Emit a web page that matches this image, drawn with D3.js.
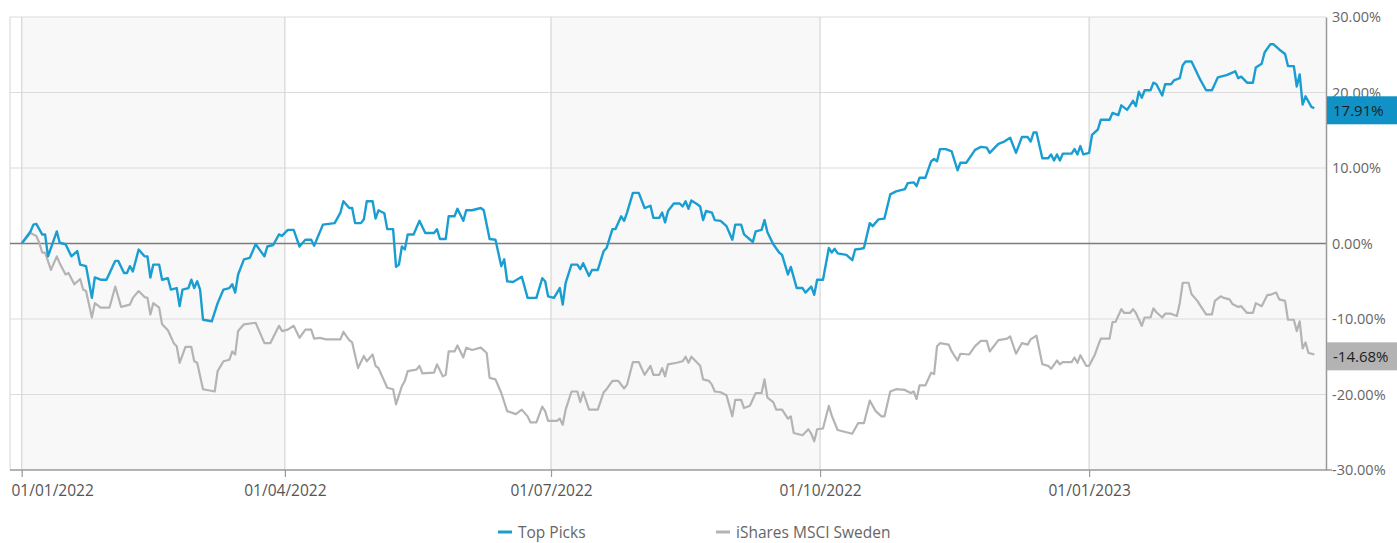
<!DOCTYPE html>
<html>
<head>
<meta charset="utf-8">
<script src="https://cdn.jsdelivr.net/npm/d3@7.9.0/dist/d3.min.js"></script>
<style>
  body { margin: 0; background: #fff; }
  svg { display: block; font-family: "Open Sans", sans-serif; }
</style>
</head>
<body>
<svg id="chart"></svg>
<script>
const width = 1397;
const height = 543;

// Cumulative performance (%)
const pickDates = [
  "2022-01-01","2022-01-04","2022-01-05","2022-01-06","2022-01-08","2022-01-09","2022-01-10","2022-01-13","2022-01-14","2022-01-16",
  "2022-01-18","2022-01-20","2022-01-21","2022-01-23","2022-01-25","2022-01-26","2022-01-28","2022-01-30","2022-02-02","2022-02-03",
  "2022-02-05","2022-02-06","2022-02-07","2022-02-08","2022-02-10","2022-02-12","2022-02-13","2022-02-14","2022-02-15","2022-02-17",
  "2022-02-18","2022-02-20","2022-02-21","2022-02-23","2022-02-24","2022-02-25","2022-02-27","2022-02-28","2022-03-01","2022-03-02",
  "2022-03-03","2022-03-04","2022-03-07","2022-03-09","2022-03-11","2022-03-13","2022-03-14","2022-03-15","2022-03-16","2022-03-18",
  "2022-03-20","2022-03-22","2022-03-25","2022-03-26","2022-03-28","2022-03-30","2022-03-31","2022-04-02","2022-04-04","2022-04-06",
  "2022-04-08","2022-04-10","2022-04-11","2022-04-14","2022-04-18","2022-04-20","2022-04-21","2022-04-23","2022-04-24","2022-04-25",
  "2022-04-27","2022-04-28","2022-04-29","2022-05-01","2022-05-02","2022-05-03","2022-05-05","2022-05-06","2022-05-08","2022-05-09",
  "2022-05-10","2022-05-11","2022-05-12","2022-05-13","2022-05-15","2022-05-17","2022-05-19","2022-05-22","2022-05-23","2022-05-24",
  "2022-05-26","2022-05-27","2022-05-29","2022-05-30","2022-06-01","2022-06-02","2022-06-04","2022-06-07","2022-06-08","2022-06-10",
  "2022-06-12","2022-06-14","2022-06-15","2022-06-16","2022-06-18","2022-06-21","2022-06-23","2022-06-26","2022-06-28","2022-06-29",
  "2022-06-30","2022-07-02","2022-07-04","2022-07-05","2022-07-06","2022-07-08","2022-07-10","2022-07-11","2022-07-12","2022-07-14",
  "2022-07-15","2022-07-17","2022-07-19","2022-07-20","2022-07-22","2022-07-23","2022-07-25","2022-07-26","2022-07-27","2022-07-29",
  "2022-07-31","2022-08-02","2022-08-04","2022-08-05","2022-08-07","2022-08-08","2022-08-09","2022-08-10","2022-08-12","2022-08-14",
  "2022-08-15","2022-08-16","2022-08-17","2022-08-18","2022-08-20","2022-08-21","2022-08-22","2022-08-23","2022-08-25","2022-08-26",
  "2022-08-28","2022-08-30","2022-09-01","2022-09-02","2022-09-04","2022-09-05","2022-09-08","2022-09-09","2022-09-11","2022-09-12",
  "2022-09-13","2022-09-15","2022-09-17","2022-09-18","2022-09-20","2022-09-21","2022-09-23","2022-09-25","2022-09-26","2022-09-28",
  "2022-09-29","2022-09-30","2022-10-02","2022-10-04","2022-10-05","2022-10-06","2022-10-07","2022-10-10","2022-10-12","2022-10-13",
  "2022-10-15","2022-10-16","2022-10-18","2022-10-19","2022-10-21","2022-10-23","2022-10-25","2022-10-27","2022-10-30","2022-10-31",
  "2022-11-02","2022-11-03","2022-11-04","2022-11-06","2022-11-08","2022-11-09","2022-11-10","2022-11-11","2022-11-13","2022-11-15",
  "2022-11-17","2022-11-18","2022-11-20","2022-11-23","2022-11-25","2022-11-27","2022-11-28","2022-12-01","2022-12-03","2022-12-05",
  "2022-12-07","2022-12-09","2022-12-11","2022-12-12","2022-12-13","2022-12-14","2022-12-16","2022-12-18","2022-12-19","2022-12-20",
  "2022-12-21","2022-12-22","2022-12-23","2022-12-26","2022-12-27","2022-12-28","2022-12-29","2022-12-30","2023-01-01","2023-01-02",
  "2023-01-04","2023-01-05","2023-01-08","2023-01-09","2023-01-11","2023-01-12","2023-01-14","2023-01-16","2023-01-17","2023-01-18",
  "2023-01-19","2023-01-20","2023-01-22","2023-01-23","2023-01-24","2023-01-26","2023-01-27","2023-01-29","2023-01-30","2023-02-01",
  "2023-02-02","2023-02-03","2023-02-05","2023-02-06","2023-02-08","2023-02-10","2023-02-12","2023-02-14","2023-02-16","2023-02-17",
  "2023-02-20","2023-02-21","2023-02-22","2023-02-24","2023-02-26","2023-02-27","2023-03-01","2023-03-02","2023-03-04","2023-03-05",
  "2023-03-07","2023-03-09","2023-03-10","2023-03-12","2023-03-13","2023-03-14","2023-03-15","2023-03-16","2023-03-18","2023-03-19"
];
const pickValues = [
  0.0, 1.6, 2.5, 2.6, 1.2, 1.2, -1.7, 1.6, 0.1, -0.1,
  -1.7, -1.0, -2.8, -3.0, -7.2, -4.5, -4.8, -4.8, -2.3, -2.3,
  -3.9, -3.9, -3.0, -3.7, -0.8, -1.7, -1.7, -4.5, -2.8, -2.8,
  -4.8, -4.6, -6.1, -5.9, -8.3, -6.1, -5.9, -4.8, -5.9, -5.0,
  -6.1, -10.1, -10.3, -7.9, -6.1, -5.9, -5.4, -6.5, -4.1, -2.1,
  -1.9, -0.1, -1.7, -0.4, -0.2, 1.2, 1.0, 1.8, 1.8, -0.4,
  0.5, 0.5, -0.3, 2.5, 2.7, 4.1, 5.6, 4.7, 4.7, 2.7,
  2.7, 3.2, 5.6, 5.6, 3.3, 4.4, 4.0, 1.9, 1.9, -3.1,
  -2.8, -0.4, -0.8, 1.2, 1.2, 3.0, 1.4, 1.4, 1.9, 0.6,
  0.6, 3.6, 3.6, 4.6, 3.0, 4.4, 4.4, 4.7, 4.4, 0.6,
  0.5, -3.0, -2.1, -5.0, -5.1, -4.4, -7.2, -7.2, -4.6, -5.0,
  -7.0, -7.2, -5.9, -8.1, -5.2, -2.8, -2.8, -3.4, -2.6, -4.3,
  -3.5, -3.5, -1.0, -0.6, 1.9, 1.9, 3.6, 3.0, 4.1, 6.7,
  6.7, 4.7, 5.0, 3.4, 3.4, 4.1, 2.8, 4.3, 5.3, 5.3,
  4.9, 5.6, 4.6, 5.7, 5.2, 4.9, 3.1, 4.3, 4.1, 3.1,
  3.0, 2.3, 0.5, 2.5, 2.5, 1.2, 0.2, 1.6, 1.8, 3.1,
  1.5, -0.1, -1.2, -1.5, -4.1, -3.1, -5.9, -5.9, -6.5, -5.7,
  -6.8, -4.8, -4.8, -0.6, -1.2, -0.7, -1.3, -1.5, -2.2, -0.8,
  -0.7, -0.6, 2.7, 2.3, 3.2, 3.3, 6.5, 6.9, 7.2, 8.0,
  8.1, 7.6, 8.7, 8.7, 10.9, 11.2, 10.9, 12.5, 12.5, 12.2,
  9.7, 10.7, 10.7, 12.4, 12.8, 12.7, 12.0, 13.2, 13.5, 14.0,
  12.0, 14.1, 14.1, 13.5, 14.7, 14.7, 11.3, 11.3, 11.8, 11.0,
  11.8, 11.0, 11.9, 11.9, 12.5, 11.8, 12.9, 11.8, 12.0, 14.4,
  15.1, 16.4, 16.4, 17.3, 17.0, 18.3, 17.7, 18.9, 18.2, 20.1,
  19.3, 20.3, 20.3, 21.3, 21.1, 19.6, 21.1, 21.1, 21.6, 21.9,
  23.6, 24.1, 24.1, 23.3, 21.7, 20.3, 20.3, 22.0, 22.2, 22.3,
  22.8, 21.9, 22.1, 21.3, 21.3, 23.3, 23.8, 25.3, 26.4, 26.4,
  25.7, 25.1, 23.5, 23.5, 20.8, 22.4, 18.4, 19.5, 18.1, 17.91
];

const swedenDates = [
  "2022-01-01","2022-01-04","2022-01-06","2022-01-07","2022-01-08","2022-01-09","2022-01-11","2022-01-13","2022-01-14","2022-01-16",
  "2022-01-17","2022-01-19","2022-01-21","2022-01-22","2022-01-23","2022-01-25","2022-01-26","2022-01-28","2022-01-31","2022-02-02",
  "2022-02-04","2022-02-07","2022-02-08","2022-02-10","2022-02-12","2022-02-13","2022-02-14","2022-02-15","2022-02-17","2022-02-18",
  "2022-02-20","2022-02-22","2022-02-23","2022-02-24","2022-02-26","2022-02-28","2022-03-01","2022-03-02","2022-03-04","2022-03-08",
  "2022-03-09","2022-03-11","2022-03-13","2022-03-14","2022-03-15","2022-03-16","2022-03-18","2022-03-22","2022-03-23","2022-03-25",
  "2022-03-27","2022-03-30","2022-03-31","2022-04-02","2022-04-04","2022-04-06","2022-04-08","2022-04-10","2022-04-11","2022-04-13",
  "2022-04-15","2022-04-20","2022-04-21","2022-04-23","2022-04-24","2022-04-26","2022-04-28","2022-04-29","2022-05-01","2022-05-02",
  "2022-05-03","2022-05-06","2022-05-08","2022-05-09","2022-05-11","2022-05-12","2022-05-13","2022-05-16","2022-05-17","2022-05-18",
  "2022-05-22","2022-05-23","2022-05-25","2022-05-26","2022-05-27","2022-05-29","2022-05-30","2022-06-01","2022-06-02","2022-06-04",
  "2022-06-07","2022-06-09","2022-06-10","2022-06-12","2022-06-14","2022-06-16","2022-06-19","2022-06-21","2022-06-23","2022-06-24",
  "2022-06-26","2022-06-28","2022-06-29","2022-06-30","2022-07-03","2022-07-04","2022-07-05","2022-07-06","2022-07-08","2022-07-10",
  "2022-07-11","2022-07-12","2022-07-14","2022-07-17","2022-07-19","2022-07-20","2022-07-22","2022-07-24","2022-07-26","2022-07-27",
  "2022-07-29","2022-07-31","2022-08-02","2022-08-04","2022-08-05","2022-08-07","2022-08-08","2022-08-09","2022-08-10","2022-08-13",
  "2022-08-15","2022-08-16","2022-08-17","2022-08-18","2022-08-20","2022-08-21","2022-08-22","2022-08-24","2022-08-25","2022-08-26",
  "2022-08-28","2022-08-30","2022-09-01","2022-09-02","2022-09-04","2022-09-05","2022-09-07","2022-09-09","2022-09-11","2022-09-12",
  "2022-09-13","2022-09-15","2022-09-16","2022-09-18","2022-09-20","2022-09-21","2022-09-22","2022-09-25","2022-09-27","2022-09-28",
  "2022-09-29","2022-09-30","2022-10-02","2022-10-04","2022-10-05","2022-10-07","2022-10-09","2022-10-12","2022-10-14","2022-10-16",
  "2022-10-18","2022-10-20","2022-10-22","2022-10-23","2022-10-25","2022-10-27","2022-10-30","2022-11-01","2022-11-02","2022-11-03",
  "2022-11-04","2022-11-06","2022-11-08","2022-11-09","2022-11-10","2022-11-11","2022-11-14","2022-11-15","2022-11-17","2022-11-18",
  "2022-11-21","2022-11-23","2022-11-25","2022-11-27","2022-11-28","2022-12-01","2022-12-04","2022-12-05","2022-12-07","2022-12-09",
  "2022-12-11","2022-12-12","2022-12-14","2022-12-16","2022-12-18","2022-12-19","2022-12-21","2022-12-22","2022-12-23","2022-12-26",
  "2022-12-27","2022-12-28","2022-12-29","2022-12-31","2023-01-01","2023-01-03","2023-01-04","2023-01-05","2023-01-08","2023-01-09",
  "2023-01-10","2023-01-12","2023-01-13","2023-01-15","2023-01-16","2023-01-17","2023-01-19","2023-01-20","2023-01-22","2023-01-23",
  "2023-01-24","2023-01-26","2023-01-27","2023-01-29","2023-01-31","2023-02-01","2023-02-02","2023-02-04","2023-02-05","2023-02-07",
  "2023-02-10","2023-02-12","2023-02-13","2023-02-15","2023-02-16","2023-02-18","2023-02-19","2023-02-21","2023-02-22","2023-02-24",
  "2023-02-26","2023-02-27","2023-03-01","2023-03-03","2023-03-04","2023-03-06","2023-03-07","2023-03-09","2023-03-10","2023-03-12",
  "2023-03-13","2023-03-14","2023-03-15","2023-03-16","2023-03-17","2023-03-19"
];
const swedenValues = [
  0.0, 1.4, 1.0, 0.1, -1.2, -1.2, -3.5, -1.7, -2.6, -4.1,
  -3.9, -5.4, -4.7, -6.1, -6.3, -9.8, -7.9, -8.5, -8.5, -5.7,
  -8.4, -8.1, -7.2, -6.3, -7.1, -7.2, -9.4, -7.9, -8.5, -10.7,
  -11.5, -13.2, -13.6, -15.8, -13.7, -13.7, -15.6, -15.8, -19.3, -19.6,
  -16.9, -15.6, -15.4, -14.3, -14.7, -11.6, -10.7, -10.5, -11.4, -13.2,
  -13.2, -10.9, -11.6, -11.4, -10.9, -12.5, -11.4, -11.4, -12.6, -12.5,
  -12.7, -12.7, -11.7, -12.8, -13.1, -16.5, -14.9, -15.6, -14.7, -16.2,
  -16.5, -19.1, -19.3, -21.3, -18.9, -18.2, -16.9, -16.7, -16.2, -17.2,
  -17.1, -16.0, -17.6, -17.4, -14.3, -14.3, -13.5, -15.1, -13.8, -14.1,
  -13.8, -14.5, -17.8, -18.0, -19.8, -22.2, -22.6, -22.0, -22.9, -23.7,
  -23.7, -21.6, -22.2, -23.5, -23.5, -23.2, -24.0, -22.0, -19.6, -19.6,
  -21.0, -19.7, -22.0, -22.0, -19.7, -19.3, -18.2, -18.2, -19.2, -18.7,
  -15.7, -15.7, -17.4, -16.2, -17.4, -17.4, -16.5, -17.6, -16.0, -15.8,
  -15.6, -15.0, -15.8, -15.0, -15.8, -16.2, -18.0, -18.2, -18.7, -19.6,
  -19.7, -20.1, -22.9, -20.7, -20.7, -21.8, -21.5, -19.8, -19.8, -18.0,
  -20.4, -21.0, -22.0, -22.0, -23.2, -22.9, -25.1, -25.4, -24.6, -25.2,
  -26.2, -24.6, -24.5, -21.5, -22.8, -24.7, -24.9, -25.2, -23.8, -23.8,
  -20.8, -22.2, -22.9, -22.9, -19.6, -19.3, -19.4, -19.8, -19.6, -20.6,
  -18.8, -18.8, -17.1, -17.3, -13.6, -13.2, -13.4, -14.3, -15.5, -14.6,
  -14.7, -13.6, -12.9, -12.9, -14.3, -12.8, -12.6, -12.3, -14.6, -13.2,
  -13.4, -12.7, -12.2, -16.0, -16.2, -16.6, -15.5, -16.0, -15.7, -15.7,
  -15.1, -15.8, -14.8, -16.2, -16.2, -14.7, -13.6, -12.6, -12.6, -10.4,
  -10.4, -8.7, -9.2, -9.2, -8.7, -9.2, -10.9, -9.8, -9.8, -8.6,
  -9.1, -9.8, -9.3, -9.3, -9.6, -7.9, -5.2, -5.2, -6.7, -7.6,
  -9.4, -9.4, -7.6, -7.0, -7.2, -7.4, -8.0, -8.4, -8.3, -9.2,
  -9.2, -7.9, -8.3, -6.8, -6.8, -6.5, -7.4, -7.6, -10.1, -10.1,
  -11.6, -10.3, -13.9, -13.1, -14.5, -14.68
];

const seriesNames = ["Top Picks", "iShares MSCI Sweden"];
const xTickDates = ["2022-01-01", "2022-04-01", "2022-07-01", "2022-10-01", "2023-01-01"];
const yTicks = [-30, -20, -10, 0, 10, 20, 30];

const pickColor = "#1a9ed2";
const swedenColor = "#b4b4b4";

const parse = d3.timeParse("%Y-%m-%d");
const locale = d3.formatLocale({decimal: ".", thousands: ",", grouping: [3], currency: ["", ""], minus: "-"});
const fmtPct = d => locale.format(".2f")(d) + "%";

const svg = d3.select("#chart").attr("width", width).attr("height", height);

const plotLeft = 10, plotRight = 1326, plotTop = 17, plotBottom = 470;

const x = d3.scaleTime()
    .domain([parse("2021-12-28"), parse("2023-03-23")])
    .range([plotLeft, plotRight]);
const y = d3.scaleLinear().domain([-30, 30]).range([plotBottom, plotTop]);

const ticks = xTickDates.map(parse);

// alternating quarter bands
const bandEdges = ticks.concat([x.domain()[1]]);
svg.append("g").selectAll("rect")
    .data(d3.range(0, bandEdges.length - 1, 2))
    .join("rect")
    .attr("x", i => x(bandEdges[i]))
    .attr("y", plotTop)
    .attr("width", i => x(bandEdges[i + 1]) - x(bandEdges[i]))
    .attr("height", plotBottom - plotTop)
    .attr("fill", "#f8f8f8");

// grid
svg.append("g").selectAll("line")
    .data(yTicks.filter(d => d !== 0 && d !== -30))
    .join("line")
    .attr("x1", plotLeft).attr("x2", plotRight)
    .attr("y1", d => y(d)).attr("y2", d => y(d))
    .attr("stroke", "#dcdcdc").attr("stroke-width", 1.2);

svg.append("g").selectAll("line")
    .data(ticks)
    .join("line")
    .attr("x1", d => x(d)).attr("x2", d => x(d))
    .attr("y1", plotTop).attr("y2", plotBottom)
    .attr("stroke", "#d6d6d6").attr("stroke-width", 1.2);

// left border
svg.append("line")
    .attr("x1", plotLeft).attr("x2", plotLeft)
    .attr("y1", plotTop).attr("y2", plotBottom)
    .attr("stroke", "#dcdcdc").attr("stroke-width", 1.2);

// zero line
svg.append("line")
    .attr("x1", plotLeft).attr("x2", plotRight)
    .attr("y1", y(0)).attr("y2", y(0))
    .attr("stroke", "#7c7c7c").attr("stroke-width", 1.6);

// lines
const line = d3.line()
    .x(d => x(d.date))
    .y(d => y(d.value));

const swedenData = swedenDates.map((d, i) => ({date: parse(d), value: swedenValues[i]}));
const pickData = pickDates.map((d, i) => ({date: parse(d), value: pickValues[i]}));

svg.append("path")
    .datum(swedenData)
    .attr("fill", "none")
    .attr("stroke", swedenColor)
    .attr("stroke-width", 2.2)
    .attr("stroke-linejoin", "round")
    .attr("d", line);

svg.append("path")
    .datum(pickData)
    .attr("fill", "none")
    .attr("stroke", pickColor)
    .attr("stroke-width", 2.4)
    .attr("stroke-linejoin", "round")
    .attr("d", line);

// right axis
const yAxis = svg.append("g")
    .attr("transform", `translate(${plotRight},0)`)
    .call(d3.axisRight(y).tickValues(yTicks).tickFormat(fmtPct).tickSize(0).tickPadding(6));
yAxis.select(".domain").attr("stroke", "#9a9a9a").attr("stroke-width", 1.5);
yAxis.selectAll("text")
    .attr("fill", "#666")
    .style("font-size", "14.5px")
    .style("font-family", "'Open Sans', sans-serif");

// bottom axis
const xAxis = svg.append("g")
    .attr("transform", `translate(0,${plotBottom})`)
    .call(d3.axisBottom(x).tickValues(ticks).tickFormat(d3.timeFormat("%d/%m/%Y")).tickSize(7).tickPadding(8));
xAxis.select(".domain").attr("stroke", "#9a9a9a").attr("stroke-width", 1.5)
    .attr("d", `M${plotLeft},0H${plotRight + 6}`);
xAxis.selectAll(".tick line").attr("stroke", "#9a9a9a").attr("stroke-width", 1.2);
xAxis.selectAll("text")
    .attr("fill", "#555")
    .style("font-size", "15.5px")
    .style("font-family", "'Open Sans', sans-serif");
xAxis.select(".tick text")
    .attr("text-anchor", "start")
    .attr("x", plotLeft + 1 - x(ticks[0]));

// last value labels
const lastLabels = [
    {value: pickValues[pickValues.length - 1], fill: "#1192c6"},
    {value: swedenValues[swedenValues.length - 1], fill: "#b3b3b3"}
];
const labelG = svg.append("g").selectAll("g")
    .data(lastLabels)
    .join("g")
    .attr("transform", d => `translate(${plotRight + 1},${y(d.value) + 2})`);
labelG.append("rect")
    .attr("x", 0).attr("y", -14)
    .attr("width", 75).attr("height", 28)
    .attr("fill", d => d.fill);
labelG.append("text")
    .attr("x", 6).attr("y", 0).attr("dy", "0.35em")
    .attr("fill", "#1e1e1e")
    .style("font-size", "15px")
    .text(d => fmtPct(d.value));

// legend
const legendItems = [
    {name: seriesNames[0], color: pickColor, x: 498},
    {name: seriesNames[1], color: swedenColor, x: 716}
];
const legend = svg.append("g").selectAll("g")
    .data(legendItems)
    .join("g")
    .attr("transform", d => `translate(${d.x},533)`);
legend.append("line")
    .attr("x1", 0).attr("x2", 14)
    .attr("y1", -1).attr("y2", -1)
    .attr("stroke", d => d.color)
    .attr("stroke-width", 3);
legend.append("text")
    .attr("x", 20).attr("dy", "0.35em")
    .attr("fill", "#666")
    .style("font-size", "15.5px")
    .text(d => d.name);
</script>
</body>
</html>
